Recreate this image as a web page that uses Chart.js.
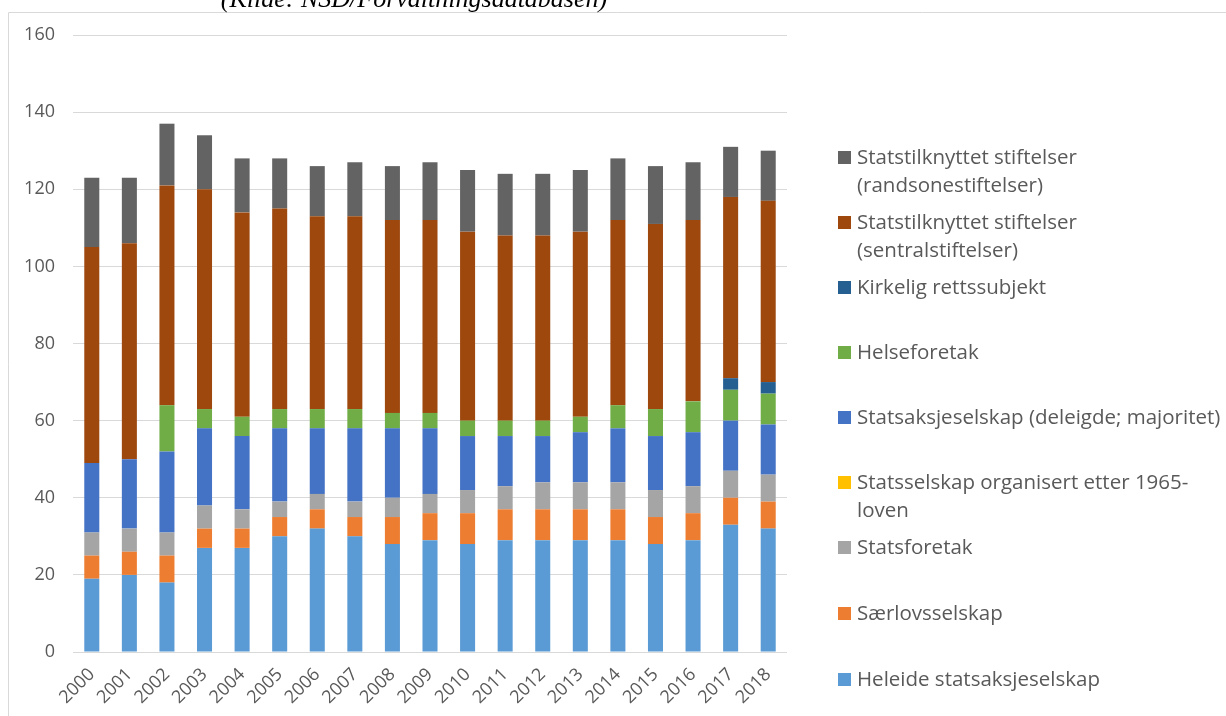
<!DOCTYPE html>
<html>
<head>
<meta charset="utf-8">
<script src="https://cdn.jsdelivr.net/npm/chart.js@4/dist/chart.umd.min.js"></script>
<style>
  html, body { margin: 0; padding: 0; background: #ffffff; }
  #wrap { position: relative; width: 1226px; height: 716px; overflow: hidden; }
</style>
</head>
<body>
<div id="wrap"><canvas id="chart"></canvas></div>
<script>
// Category labels
const years = ['2000','2001','2002','2003','2004','2005','2006','2007','2008','2009',
               '2010','2011','2012','2013','2014','2015','2016','2017','2018'];

// Number of entities per organisational form and year
const heleide      = [19,20,18,27,27,30,32,30,28,29,28,29,29,29,29,28,29,33,32];
const saerlov      = [ 6, 6, 7, 5, 5, 5, 5, 5, 7, 7, 8, 8, 8, 8, 8, 7, 7, 7, 7];
const statsforetak = [ 6, 6, 6, 6, 5, 4, 4, 4, 5, 5, 6, 6, 7, 7, 7, 7, 7, 7, 7];
const statsselskap = [ 0, 0, 0, 0, 0, 0, 0, 0, 0, 0, 0, 0, 0, 0, 0, 0, 0, 0, 0];
const deleigde     = [18,18,21,20,19,19,17,19,18,17,14,13,12,13,14,14,14,13,13];
const helse        = [ 0, 0,12, 5, 5, 5, 5, 5, 4, 4, 4, 4, 4, 4, 6, 7, 8, 8, 8];
const kirkelig     = [ 0, 0, 0, 0, 0, 0, 0, 0, 0, 0, 0, 0, 0, 0, 0, 0, 0, 3, 3];
const sentral      = [56,56,57,57,53,52,50,50,50,50,49,48,48,48,48,48,47,47,47];
const randsone     = [18,17,16,14,14,13,13,14,14,15,16,16,16,16,16,15,15,13,13];

// Y axis ticks
const yTicks = [0, 20, 40, 60, 80, 100, 120, 140, 160];

// Legend texts (one entry per series, split into lines)
const seriesNames = [
  ['Heleide statsaksjeselskap'],
  ['Særlovsselskap'],
  ['Statsforetak'],
  ['Statsselskap organisert etter 1965-', 'loven'],
  ['Statsaksjeselskap (deleigde; majoritet)'],
  ['Helseforetak'],
  ['Kirkelig rettssubjekt'],
  ['Statstilknyttet stiftelser', '(sentralstiftelser)'],
  ['Statstilknyttet stiftelser', '(randsonestiftelser)']
];
const seriesValues = [heleide, saerlov, statsforetak, statsselskap, deleigde, helse, kirkelig, sentral, randsone];
const seriesColors = ['#5B9BD5', '#ED7D31', '#A5A5A5', '#FFC000', '#4472C4', '#70AD47', '#255E91', '#9E480E', '#636363'];

const sourceNote = '(Kilde: NSD/Forvaltningsdatabasen)';

const TEXT = '#595959';
const FONT = "'Open Sans', 'Liberation Sans', sans-serif";

const datasets = seriesValues.map((vals, i) => ({
  label: seriesNames[i].join(' '),
  data: vals,
  backgroundColor: seriesColors[i],
  borderWidth: 0,
  barPercentage: 0.4,
  categoryPercentage: 1.0
}));

// Frame, source note and a right-hand legend listed top-down
const decorations = {
  id: 'decorations',
  beforeDraw(chart) {
    const ctx = chart.ctx;
    ctx.save();
    ctx.strokeStyle = '#D9D9D9';
    ctx.lineWidth = 1;
    ctx.beginPath();
    ctx.moveTo(8.5, chart.height + 5);
    ctx.lineTo(8.5, 12.5);
    ctx.lineTo(chart.width + 5, 12.5);
    ctx.stroke();
    ctx.restore();
  },
  afterDraw(chart) {
    const ctx = chart.ctx;
    ctx.save();
    ctx.fillStyle = '#000000';
    ctx.font = "italic 26px 'Liberation Serif', 'DejaVu Serif', serif";
    ctx.textAlign = 'center';
    ctx.textBaseline = 'alphabetic';
    ctx.fillText(sourceNote, 414, 7);

    // legend, last series on top
    const baselines = [164, 229, 294, 359, 424, 489, 554, 620, 686];
    const lineGap = 28;
    ctx.font = '20.5px ' + FONT;
    ctx.textAlign = 'left';
    const n = chart.data.datasets.length;
    for (let k = 0; k < n; k++) {
      const ds = chart.data.datasets[n - 1 - k];
      const lines = seriesNames[n - 1 - k];
      const by = baselines[k];
      ctx.fillStyle = ds.backgroundColor;
      ctx.fillRect(838, by - 13, 13, 13);
      ctx.fillStyle = TEXT;
      lines.forEach((t, j) => ctx.fillText(t, 857, by + j * lineGap));
    }
    ctx.restore();
  }
};

new Chart(document.getElementById('chart'), {
  type: 'bar',
  data: { labels: years, datasets },
  plugins: [decorations],
  options: {
    responsive: true,
    maintainAspectRatio: false,
    animation: false,
    layout: { padding: { left: 0, right: 439, top: 35, bottom: 0 } },
    plugins: {
      legend: { display: false },
      tooltip: { enabled: false },
      title: { display: false }
    },
    scales: {
      x: {
        stacked: true,
        grid: { display: false, drawTicks: false },
        border: { display: false },
        ticks: {
          color: TEXT,
          font: { family: FONT, size: 18 },
          maxRotation: 45,
          minRotation: 45,
          padding: 12,
          autoSkip: false
        },
        afterFit(s) { s.height = 64; }
      },
      y: {
        stacked: true,
        min: 0,
        max: 160,
        afterBuildTicks(s) { s.ticks = yTicks.map(v => ({ value: v })); },
        grid: { color: '#D9D9D9', lineWidth: 1, drawTicks: false },
        border: { display: false },
        ticks: {
          color: TEXT,
          font: { family: FONT, size: 18 },
          padding: 18
        },
        afterFit(s) { s.width = 73; }
      }
    }
  }
});
</script>
</body>
</html>
